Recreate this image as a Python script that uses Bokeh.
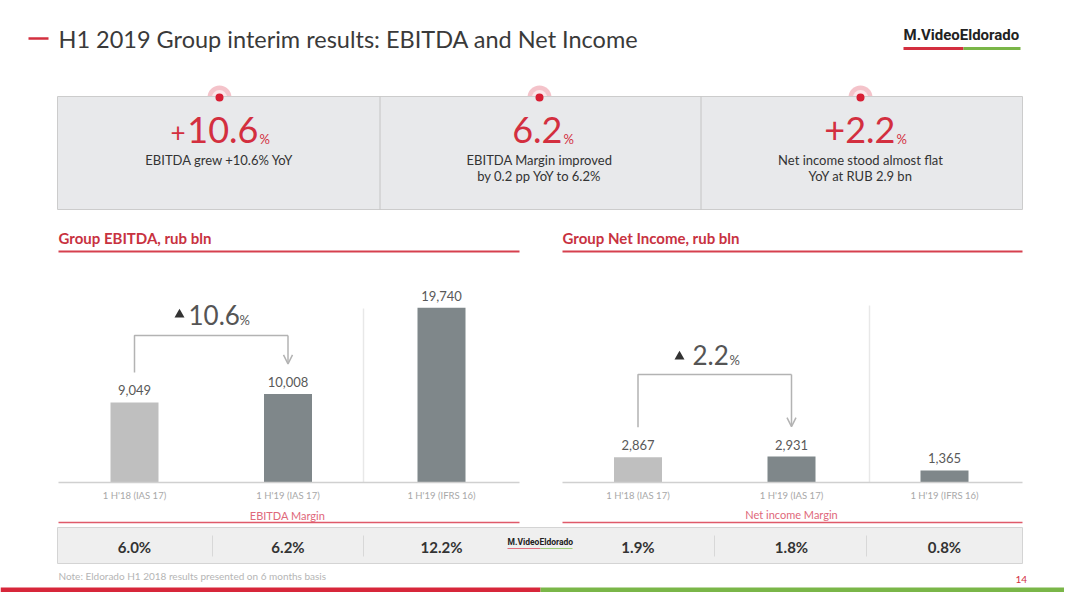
from bokeh.plotting import figure
from bokeh.models import Range1d, Arrow, OpenHead
from bokeh.core.properties import value
from bokeh.embed import file_html
from bokeh.resources import INLINE

# ---------------- data ----------------
categories = ["1 H'18 (IAS 17)", "1 H'19 (IAS 17)", "1 H'19 (IFRS 16)"]
ebitda = [9049, 10008, 19740]
net_income = [2867, 2931, 1365]
ebitda_margin = [6.0, 6.2, 12.2]
ni_margin = [1.9, 1.8, 0.8]
ebitda_growth = 10.6
ebitda_margin_now = 6.2
ni_growth = 2.2

# ---------------- layout constants ----------------
RED = "#d32f3f"
GREEN = "#7ab648"
DARK = "#333333"
BAR_COLORS = ["#bfbfbf", "#7f878a", "#7f878a"]
FONT = "Lato"
BASE = 482          # baseline (px) of both bar charts
SCALE = 113.0       # value units per pixel
W, H = 1064, 592
eb_x = [134, 287.5, 441]
ni_x = [637.5, 791, 944]

p = figure(width=W, height=H, x_range=Range1d(0, W), y_range=Range1d(H, 0),
           output_backend="svg", toolbar_location=None, min_border=0,
           x_axis_type=None, y_axis_type=None)
p.grid.visible = False
p.outline_line_color = None
p.background_fill_color = "white"
p.extra_y_ranges = {"val": Range1d((BASE - H) * SCALE, BASE * SCALE)}


def txt(x, y, s, size, color=DARK, align="center", style="normal", font=FONT, rn="default"):
    p.text(x=x if isinstance(x, list) else [x], y=y if isinstance(y, list) else [y],
           text=s if isinstance(s, list) else [s],
           text_font=value(font), text_font_size=value(size), text_font_style=style,
           text_color=color, text_align=align, text_baseline="middle", y_range_name=rn)


def seg(x0, y0, x1, y1, color, w=1.0, rn="default"):
    p.segment(x0=[x0], y0=[y0], x1=[x1], y1=[y1], line_color=color, line_width=w,
              y_range_name=rn)


# ---------------- header ----------------
seg(28, 38, 48, 38, RED, 2.5)
txt(58, 38, "H1 2019 Group interim results: EBITDA and Net Income", "23.5px", "#3a3a3a",
    align="left")
txt(903, 34, "M.VideoEldorado", "15px", "#222222", align="left", style="bold", font="Roboto")
seg(903, 48, 963, 48, RED, 3)
seg(963, 48, 1020, 48, GREEN, 3)

# ---------------- KPI boxes ----------------
kpi_cx = [219, 539, 860]
p.scatter(x=kpi_cx, y=[97] * 3, size=24, fill_color="#f4c3ca", line_color=None)
p.scatter(x=kpi_cx, y=[97] * 3, size=15, fill_color="#fbe6e9", line_color=None)
p.quad(left=[57], right=[1022], top=[96], bottom=[209], fill_color="#e8e9eb",
       line_color="#cccccc", line_width=1)
seg(379.5, 96, 379.5, 209, "#c4c4c4", 1)
seg(700.5, 96, 700.5, 209, "#c4c4c4", 1)
p.scatter(x=kpi_cx, y=[97] * 3, size=8, fill_color="#d81e34", line_color=None)

NUM_Y, PCT_Y = 129, 138
txt(185, 131, "+", "26px", RED, align="right")
txt(258, NUM_Y, f"{ebitda_growth:.1f}", "36px", RED, align="right")
txt(259, PCT_Y, "%", "13px", RED, align="left")
txt(219, 159, f"EBITDA grew +{ebitda_growth:.1f}% YoY", "13px")

txt(562, NUM_Y, f"{ebitda_margin_now:.1f}", "36px", RED, align="right")
txt(563, PCT_Y, "%", "13px", RED, align="left")
txt(539, 159, "EBITDA Margin improved", "13px")
txt(539, 175, f"by 0.2 pp YoY to {ebitda_margin_now:.1f}%", "13px")

txt(895, NUM_Y, f"+{ni_growth:.1f}", "36px", RED, align="right")
txt(896, PCT_Y, "%", "13px", RED, align="left")
txt(860, 159, "Net income stood almost flat", "13px")
txt(860, 175, "YoY at RUB 2.9 bn", "13px")

# ---------------- section headers ----------------
txt(58, 237, "Group EBITDA, rub bln", "15px", "#c8323f", align="left", style="bold")
seg(58, 251, 519, 251, "#d6404e", 2)
txt(562, 237, "Group Net Income, rub bln", "15px", "#c8323f", align="left", style="bold")
seg(562, 251, 1022, 251, "#d6404e", 2)

# ---------------- charts ----------------
GRAY_LINE = "#d0d0d0"
seg(363, 308, 363, BASE, "#e8e8e8", 1.5)
seg(869, 305, 869, BASE, "#e8e8e8", 1.5)

for xs, vals in ((eb_x, ebitda), (ni_x, net_income)):
    p.vbar(x=xs, top=vals, bottom=0, width=48, fill_color=BAR_COLORS, line_color=None,
           y_range_name="val")
    txt(xs, [v + 12 * SCALE for v in vals], [f"{v:,}" for v in vals], "13px", "#595959",
        rn="val")
    txt(xs, [495] * 3, categories, "9.5px", "#a8a8a8")

seg(58, BASE, 519, BASE, GRAY_LINE, 1.5)
seg(562, BASE, 1022, BASE, GRAY_LINE, 1.5)

# growth brackets
BR = "#b3b3b3"
PAD = 30 * SCALE
for xs, vals, top_px in ((eb_x, ebitda, 335), (ni_x, net_income, 374)):
    top_v = (BASE - top_px) * SCALE
    p.line(x=[xs[0], xs[0], xs[1], xs[1]], y=[vals[0] + PAD, top_v, top_v, top_v],
           line_color=BR, line_width=1.5, y_range_name="val")
    p.add_layout(Arrow(end=OpenHead(size=9, line_color=BR, line_width=1.5),
                       x_start=xs[1], y_start=top_v, x_end=xs[1], y_end=vals[1] + PAD,
                       line_color=BR, line_width=1.5, y_range_name="val"))

p.scatter(x=[179], y=[314], marker="triangle", size=10, fill_color=DARK, line_color=None)
txt(188, 314, f"{ebitda_growth:.1f}", "26px", "#555555", align="left")
txt(239, 319, "%", "13px", "#555555", align="left")
p.scatter(x=[679], y=[356], marker="triangle", size=10, fill_color=DARK, line_color=None)
txt(692, 354, f"{ni_growth:.1f}", "26px", "#555555", align="left")
txt(729, 359, "%", "13px", "#555555", align="left")

# ---------------- margins ----------------
txt(287, 515, "EBITDA Margin", "11px", "#e0687a")
seg(58, 522, 519, 522, "#df5a6a", 1.5)
txt(791, 514, "Net income Margin", "11px", "#e0687a")
seg(562, 522, 1022, 522, "#df5a6a", 1.5)

p.quad(left=[57], right=[1022], top=[527], bottom=[563], fill_color="#efefef",
       line_color="#d4d4d4", line_width=1)
for xd in (212, 363, 714, 866):
    seg(xd, 535, xd, 556, "#d8d8d8", 1)
txt(eb_x, [546] * 3, [f"{m:.1f}%" for m in ebitda_margin], "15px", DARK, style="bold")
txt(ni_x, [546] * 3, [f"{m:.1f}%" for m in ni_margin], "15px", DARK, style="bold")
txt(507, 541, "M.VideoEldorado", "8.5px", "#222222", align="left", style="bold",
    font="Roboto")
seg(507, 548, 540, 548, "#e07080", 1)
seg(540, 548, 572, 548, "#9fcf7a", 1)

# ---------------- footer ----------------
txt(58, 575, "Note: Eldorado H1 2018 results presented on 6 months basis", "10px",
    "#b5b5b5", align="left")
txt(1015, 579, "14", "10px", RED, align="left")
p.quad(left=[0], right=[540], top=[587], bottom=[592], fill_color="#d7263a", line_color=None)
p.quad(left=[540], right=[W], top=[587], bottom=[592], fill_color=GREEN, line_color=None)

open("out.html", "w").write(file_html(p, INLINE))
